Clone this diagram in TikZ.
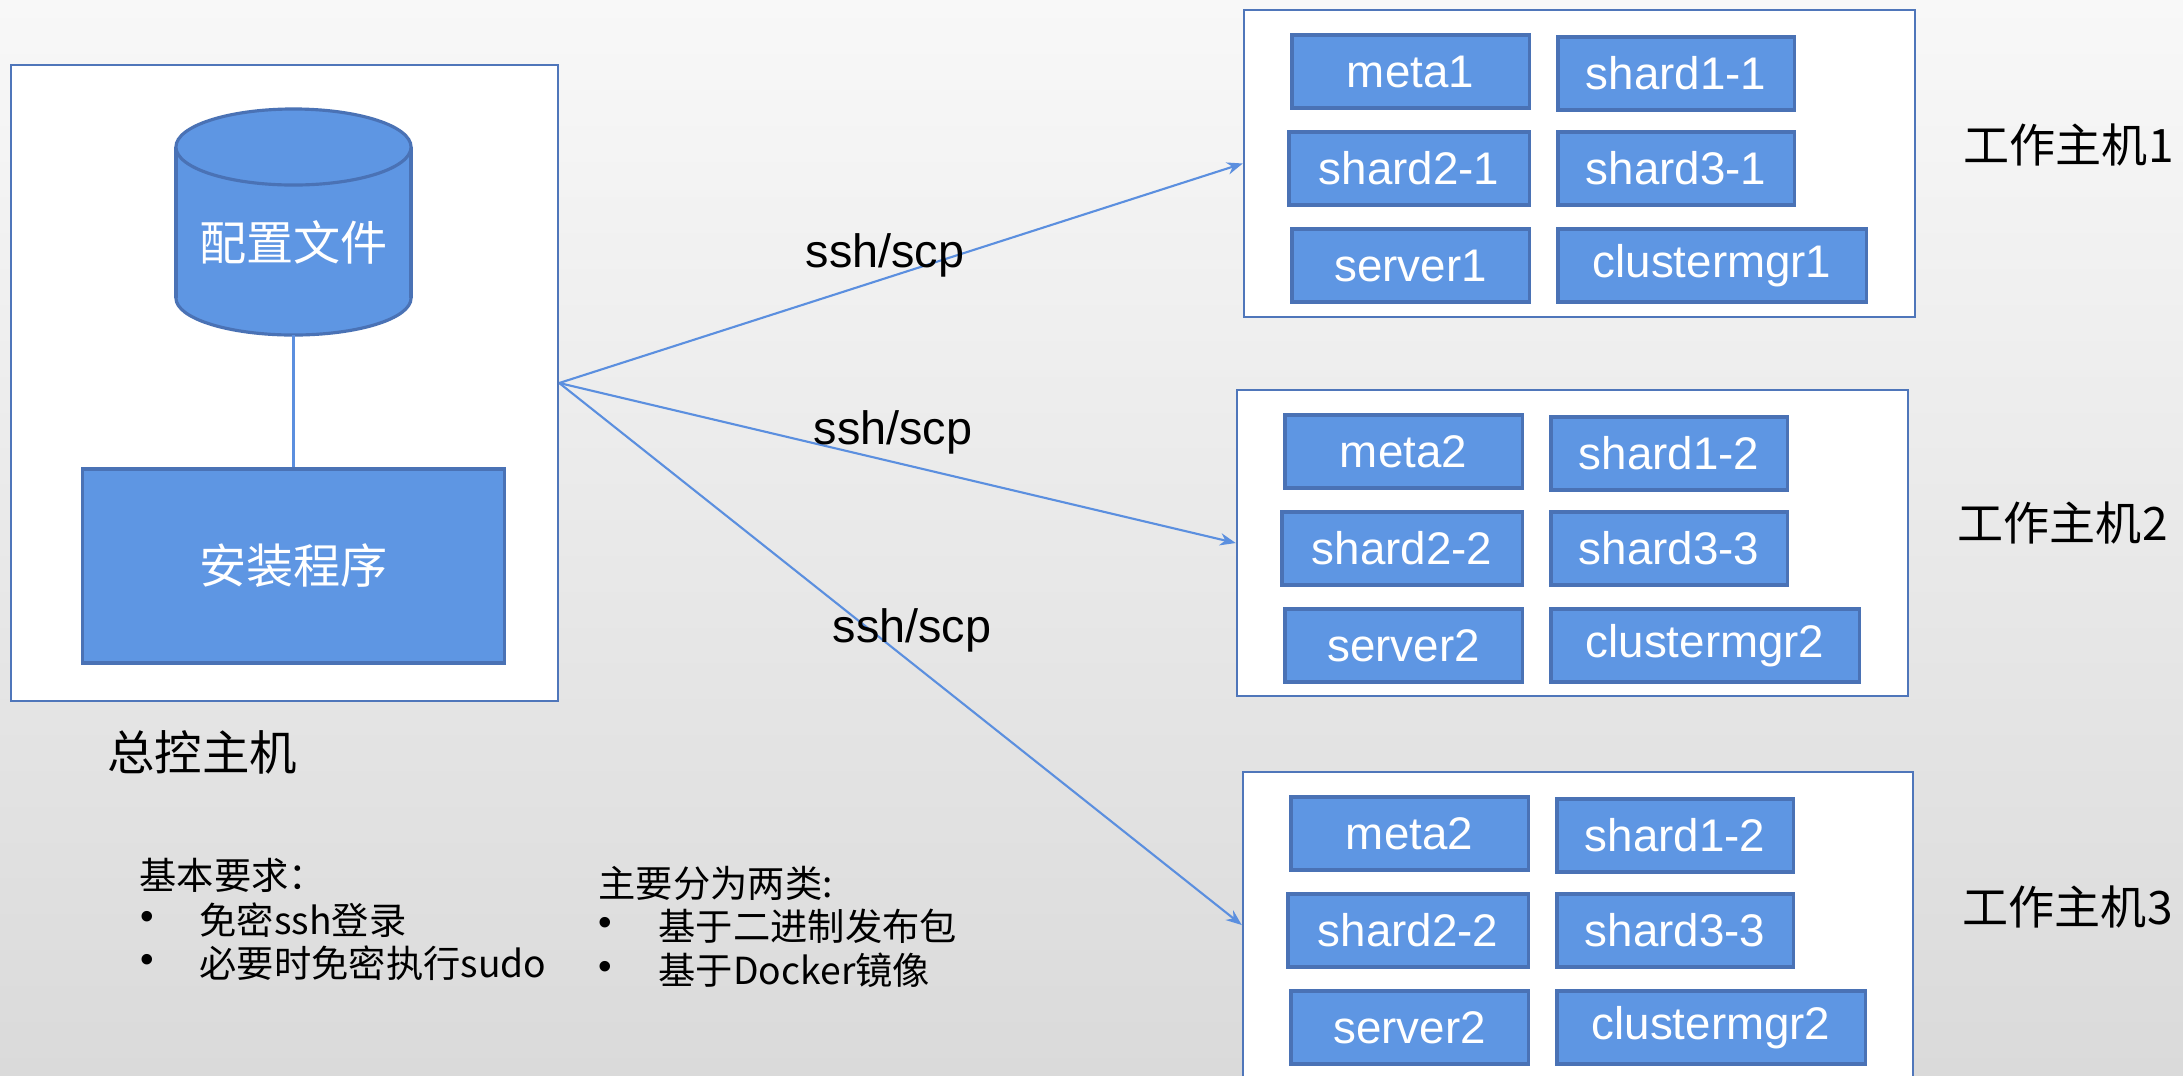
\documentclass[tikz,border=0pt]{standalone}
\usepackage{fontspec}
\setmainfont{Liberation Sans}
\newfontfamily\cjk{Noto Sans CJK SC}
\usetikzlibrary{arrows.meta}
\definecolor{boxfill}{HTML}{5E96E3}
\definecolor{boxline}{HTML}{4A72B5}
\definecolor{hostline}{HTML}{4F76BA}
\definecolor{linkc}{HTML}{5B8FDF}
\definecolor{bgtop}{HTML}{F8F8F8}
\definecolor{bgbot}{HTML}{DADADA}
\begin{document}
\begin{tikzpicture}[x=0.01cm, y=-0.01cm,
  svc/.style={draw=boxline, fill=boxfill, line width=0.9pt, text=white, inner sep=0pt,
    minimum height=0.73cm, font=\fontsize{13pt}{15pt}\selectfont},
  hostbox/.style={draw=hostline, fill=white, line width=0.6pt, inner sep=0pt},
  link/.style={draw=linkc, line width=0.6pt, -{Stealth[length=4.5pt,width=3.5pt]}},
  lbl/.style={font=\fontsize{13.3pt}{15pt}\selectfont, inner sep=0pt},
  hostlbl/.style={anchor=west, inner sep=0pt, font=\cjk\fontsize{13.1pt}{15pt}\selectfont},
  note/.style={anchor=west, inner sep=0pt, font=\cjk\fontsize{10.6pt}{13pt}\selectfont},
  bulletn/.style={inner sep=0pt, font=\fontsize{11pt}{13pt}\selectfont},
  cyl/.style={draw=boxline, fill=boxfill, line width=0.9pt}
]
\useasboundingbox (0,0) rectangle (2183,1075);
\shade[top color=bgtop, bottom color=bgbot] (0,0) rectangle (2183,1075);

% master host
\node[hostbox, minimum width=5.47cm, minimum height=6.36cm] (master) at (284.5,383) {};
% cylinder
\filldraw[cyl] (293.5,298) ellipse [x radius=1.175cm, y radius=0.37cm];
\fill[boxfill] (176,147) rectangle (411,298);
\draw[boxline, line width=0.9pt] (176,147) -- (176,298) (411,147) -- (411,298);
\filldraw[cyl] (293.5,147) ellipse [x radius=1.175cm, y radius=0.38cm];
\node[text=white, inner sep=0pt, font=\cjk\fontsize{13.4pt}{15pt}\selectfont] (cfg) at (293.5,242) {配置文件};
\coordinate (cylbot) at (293.5,335);
\node[svc, minimum width=4.21cm, minimum height=1.94cm, font=\cjk\fontsize{13.4pt}{15pt}\selectfont] (install) at (293.5,566) {安装程序};
\draw[linkc, line width=0.6pt] (cylbot) -- (install.north);
\node[inner sep=0pt, font=\cjk\fontsize{13.5pt}{15pt}\selectfont] (mlabel) at (202,752) {总控主机};

% host 1
\node[hostbox, minimum width=6.71cm, minimum height=3.07cm] (host1) at (1579.5,163.5) {};
\node[svc, minimum width=2.37cm] (h1a) at (1410.5,71.5) {meta1};
\node[svc, minimum width=2.36cm] (h1b) at (1676,73.5) {shard1-1};
\node[svc, minimum width=2.40cm] (h1c) at (1409,168.5) {shard2-1};
\node[svc, minimum width=2.36cm] (h1d) at (1676,168.5) {shard3-1};
\node[svc, minimum width=2.37cm] (h1e) at (1410.5,265.5) {server1};
\node[svc, minimum width=3.08cm] (h1f) at (1712,265.5) {clustermgr1};
\node[hostlbl] (w1) at (1963,145) {工作主机1};

% host 2
\begin{scope}[shift={(-7,380)}]
\node[hostbox, minimum width=6.71cm, minimum height=3.06cm] (host2) at (1579.5,163) {};
\node[svc, minimum width=2.37cm] (h2a) at (1410.5,71.5) {meta2};
\node[svc, minimum width=2.36cm] (h2b) at (1676,73.5) {shard1-2};
\node[svc, minimum width=2.40cm] (h2c) at (1409,168.5) {shard2-2};
\node[svc, minimum width=2.36cm] (h2d) at (1676,168.5) {shard3-3};
\node[svc, minimum width=2.37cm] (h2e) at (1410.5,265.5) {server2};
\node[svc, minimum width=3.08cm] (h2f) at (1712,265.5) {clustermgr2};
\end{scope}
\node[hostlbl] (w2) at (1957,523) {工作主机2};

% host 3
\begin{scope}[shift={(-1,762)}]
\node[hostbox, minimum width=6.70cm, minimum height=3.06cm] (host3) at (1579,163) {};
\node[svc, minimum width=2.37cm] (h3a) at (1410.5,71.5) {meta2};
\node[svc, minimum width=2.36cm] (h3b) at (1676,73.5) {shard1-2};
\node[svc, minimum width=2.40cm] (h3c) at (1409,168.5) {shard2-2};
\node[svc, minimum width=2.36cm] (h3d) at (1676,168.5) {shard3-3};
\node[svc, minimum width=2.37cm] (h3e) at (1410.5,265.5) {server2};
\node[svc, minimum width=3.08cm] (h3f) at (1712,265.5) {clustermgr2};
\end{scope}
\node[hostlbl] (w3) at (1962,907) {工作主机3};

% connectors
\draw[link] (master.east) -- (host1.west);
\draw[link] (master.east) -- (host2.west);
\draw[link] (master.east) -- (host3.west);
\node[lbl] (s1) at (885,255) {ssh/scp};
\node[lbl] (s2) at (893,432) {ssh/scp};
\node[lbl] (s3) at (912,630) {ssh/scp};

% notes
\node[note] (req) at (139,875) {基本要求：};
\node[bulletn] (rb1) at (147,920) {\textbullet};
\node[note] (rt1) at (199,920) {免密ssh登录};
\node[bulletn] (rb2) at (147,963) {\textbullet};
\node[note] (rt2) at (199,963) {必要时免密执行sudo};
\node[note] (typ) at (598,883) {主要分为两类:};
\node[bulletn] (tb1) at (605,926) {\textbullet};
\node[note] (tt1) at (658,926) {基于二进制发布包};
\node[bulletn] (tb2) at (605,970) {\textbullet};
\node[note] (tt2) at (658,970) {基于Docker镜像};
\end{tikzpicture}
\end{document}
